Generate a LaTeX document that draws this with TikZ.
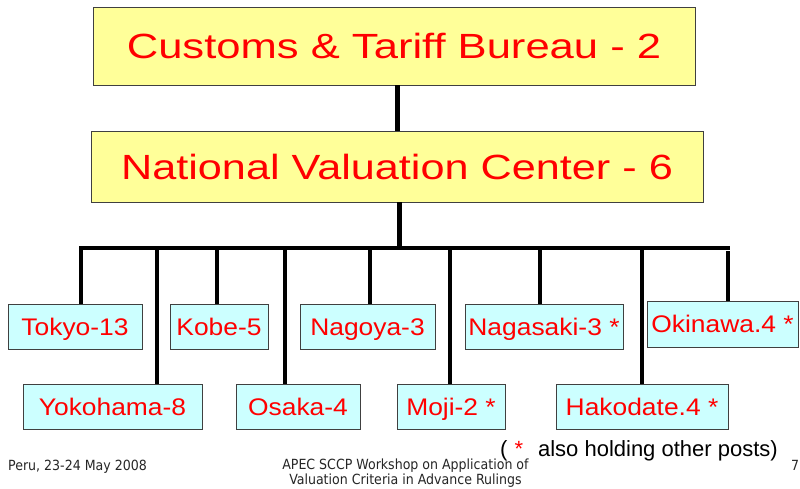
\documentclass[tikz,border=0pt]{standalone}
\usepackage{fontspec}
\setmainfont{Liberation Sans}
\newfontfamily\footfont{DejaVu Sans Condensed}
\usetikzlibrary{calc}
\definecolor{boxred}{HTML}{FF0000}
\definecolor{yfill}{HTML}{FFFF99}
\definecolor{cfill}{HTML}{CCFFFF}
\newcommand{\widetext}[2]{\scalebox{#1}[1]{#2}}
\begin{document}
\begin{tikzpicture}[x=1pt,y=-1pt,
  topbox/.style={draw=black!75, line width=0.9pt, fill=yfill, text=boxred, inner sep=0pt,
    text height=25pt, text depth=0pt, font=\fontsize{35}{40}\selectfont},
  citybox/.style={draw=black!75, line width=0.9pt, fill=cfill, text=boxred, inner sep=0pt,
    text height=17.2pt, text depth=0pt,
    minimum height=45pt, font=\fontsize{24}{28}\selectfont},
  link/.style={line width=4pt, black},
  mainlink/.style={line width=5pt, black},
  foot/.style={font=\footfont\fontsize{14}{14.5}\selectfont, text=black!85, align=center, inner sep=0pt}]
\useasboundingbox[fill=white] (0,0) rectangle (800,488);

% top boxes
\node[topbox, minimum width=602pt, minimum height=78pt] (ctb) at (394,46)
  {\widetext{1.245}{Customs \& Tariff Bureau - 2}};
\node[topbox, minimum width=612pt, minimum height=71pt] (nvc) at (397,166.5)
  {\widetext{1.235}{National Valuation Center - 6}};

% city boxes
\node[citybox, minimum width=134pt] (tokyo)    at (75,326.5)  {\widetext{1.1}{Tokyo-13}};
\node[citybox, minimum width=98pt]  (kobe)     at (219,326.5) {\widetext{1.1}{Kobe-5}};
\node[citybox, minimum width=135pt] (nagoya)   at (367.5,326.5) {\widetext{1.1}{Nagoya-3}};
\node[citybox, minimum width=158pt] (nagasaki) at (544,326.5) {\widetext{1.1}{Nagasaki-3 *}};
\node[citybox, minimum width=151pt, minimum height=46pt] (okinawa) at (722.5,324) {\widetext{1.1}{Okinawa.4 *}};
\node[citybox, minimum width=179pt] (yokohama) at (112.5,406.5) {\widetext{1.1}{Yokohama-8}};
\node[citybox, minimum width=124pt] (osaka)    at (298,406.5) {\widetext{1.1}{Osaka-4}};
\node[citybox, minimum width=108pt] (moji)     at (451,406.5) {\widetext{1.1}{Moji-2 *}};
\node[citybox, minimum width=172pt] (hakodate) at (642,406.5) {\widetext{1.1}{Hakodate.4 *}};

% connectors
\draw[mainlink] ($(ctb.south)+(3,0)$) -- ($(ctb.south |- nvc.north)+(3,0)$);
\coordinate (barL) at (79,248);
\coordinate (barR) at (730,248);
\draw[mainlink] ($(nvc.south)+(2,0)$) -- ($(nvc.south |- barL)+(2,0)$);
\draw[link] (barL) -- (barR);

\coordinate (dTokyo) at (81,248);
\coordinate (dYokohama) at (157,248);
\coordinate (dKobe) at (217,248);
\coordinate (dOsaka) at (285,248);
\coordinate (dNagoya) at (370,248);
\coordinate (dMoji) at (450,248);
\coordinate (dNagasaki) at (540,248);
\coordinate (dHakodate) at (642,248);
\coordinate (dOkinawa) at (728,251);

\draw[link] (dTokyo) -- (dTokyo |- tokyo.north);
\draw[link] (dYokohama) -- (dYokohama |- yokohama.north);
\draw[link] (dKobe) -- (dKobe |- kobe.north);
\draw[link] (dOsaka) -- (dOsaka |- osaka.north);
\draw[link] (dNagoya) -- (dNagoya |- nagoya.north);
\draw[link] (dMoji) -- (dMoji |- moji.north);
\draw[link] (dNagasaki) -- (dNagasaki |- nagasaki.north);
\draw[link] (dHakodate) -- (dHakodate |- hakodate.north);
\draw[link] (dOkinawa) -- (dOkinawa |- okinawa.north);

% footnote
\node[anchor=base east, inner sep=0pt, font=\fontsize{22}{26}\selectfont] (note) at (778,456)
  {(\hspace{7pt}\textcolor{boxred}{*}\hspace{15pt}also holding other posts)};

% footer
\node[foot, anchor=base west] (date) at (8,470) {Peru, 23-24 May 2008};
\node[foot, anchor=north] (title) at (405.5,459) {APEC SCCP Workshop on Application of\\Valuation Criteria in Advance Rulings};
\node[foot, anchor=base west] (page) at (791,470) {7};
\end{tikzpicture}
\end{document}
